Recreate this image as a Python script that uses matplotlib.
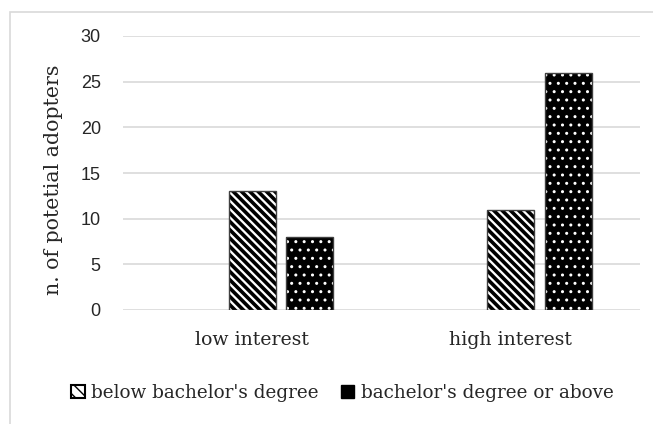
import matplotlib.pyplot as plt
from matplotlib.patches import Patch, Rectangle
import numpy as np

# data
categories = ["low interest", "high interest"]
series_names = ["below bachelor's degree", "bachelor's degree or above"]
below_bachelor = [13, 11]
bachelor_or_above = [8, 26]
yticks = [0, 5, 10, 15, 20, 25, 30]

serif = ['DejaVu Serif']
txt = '#262626'

fig = plt.figure(figsize=(6.53, 4.24), dpi=100)
ax = fig.add_axes([123 / 653, 114 / 424, 517 / 653, 274 / 424])

x = np.arange(len(categories))
w = 0.182
off = 0.222

# hatched series (centred on the category, an empty series sits to its left)
with plt.rc_context({'hatch.linewidth': 2.6}):
    ax.bar(x, below_bachelor, w, color='white', edgecolor='black', hatch='\\\\\\\\',
           linewidth=0, zorder=3)
ax.bar(x, below_bachelor, w, fill=False, edgecolor='#404040', linewidth=1, zorder=4)

# dotted series: black with white dots
with plt.rc_context({'hatch.linewidth': 1.0}):
    ax.bar(x + off, bachelor_or_above, w, color='black', edgecolor='white', hatch='..',
           linewidth=0, zorder=3)
ax.bar(x + off, bachelor_or_above, w, fill=False, edgecolor='#404040', linewidth=1, zorder=4)

ax.set_xlim(-0.5, 1.5)
ax.set_ylim(0, 30)
ax.set_yticks(yticks)
ax.set_xticks(x)
ax.set_xticklabels(categories, family=serif, fontsize=13.6, color=txt)
for lab in ax.get_yticklabels():
    lab.set_family(['Liberation Sans Narrow', 'Liberation Sans'])
    lab.set_fontsize(13)
    lab.set_color(txt)
ax.tick_params(length=0)
ax.tick_params(axis='y', pad=16)
ax.tick_params(axis='x', pad=15)
ax.grid(axis='y', color='#d9d9d9', linewidth=1.2, zorder=0)
for s in ax.spines.values():
    s.set_visible(False)
ax.set_ylabel("n. of potetial adopters", family=serif, fontsize=14.8, color=txt)
ax.yaxis.set_label_coords(-0.116, 0.475)

handles = [Patch(facecolor='white', edgecolor='black', hatch='\\\\\\', linewidth=1.5),
           Patch(facecolor='black', edgecolor='black', linewidth=1)]
fig.legend(handles, series_names, loc='center', bbox_to_anchor=(0.524, 31 / 424),
           ncol=2, frameon=False, prop={'family': serif, 'size': 13.2},
           handlelength=0.75, handleheight=0.75, handletextpad=0.35, columnspacing=1.2,
           labelcolor=txt)

# light border of the chart object
fig.patches.append(Rectangle((10 / 653, -0.1), 1.2, (424 - 12) / 424 + 0.1,
                             transform=fig.transFigure, fill=False,
                             edgecolor='#d9d9d9', linewidth=1.2))

fig.savefig('out.png', dpi=100)
